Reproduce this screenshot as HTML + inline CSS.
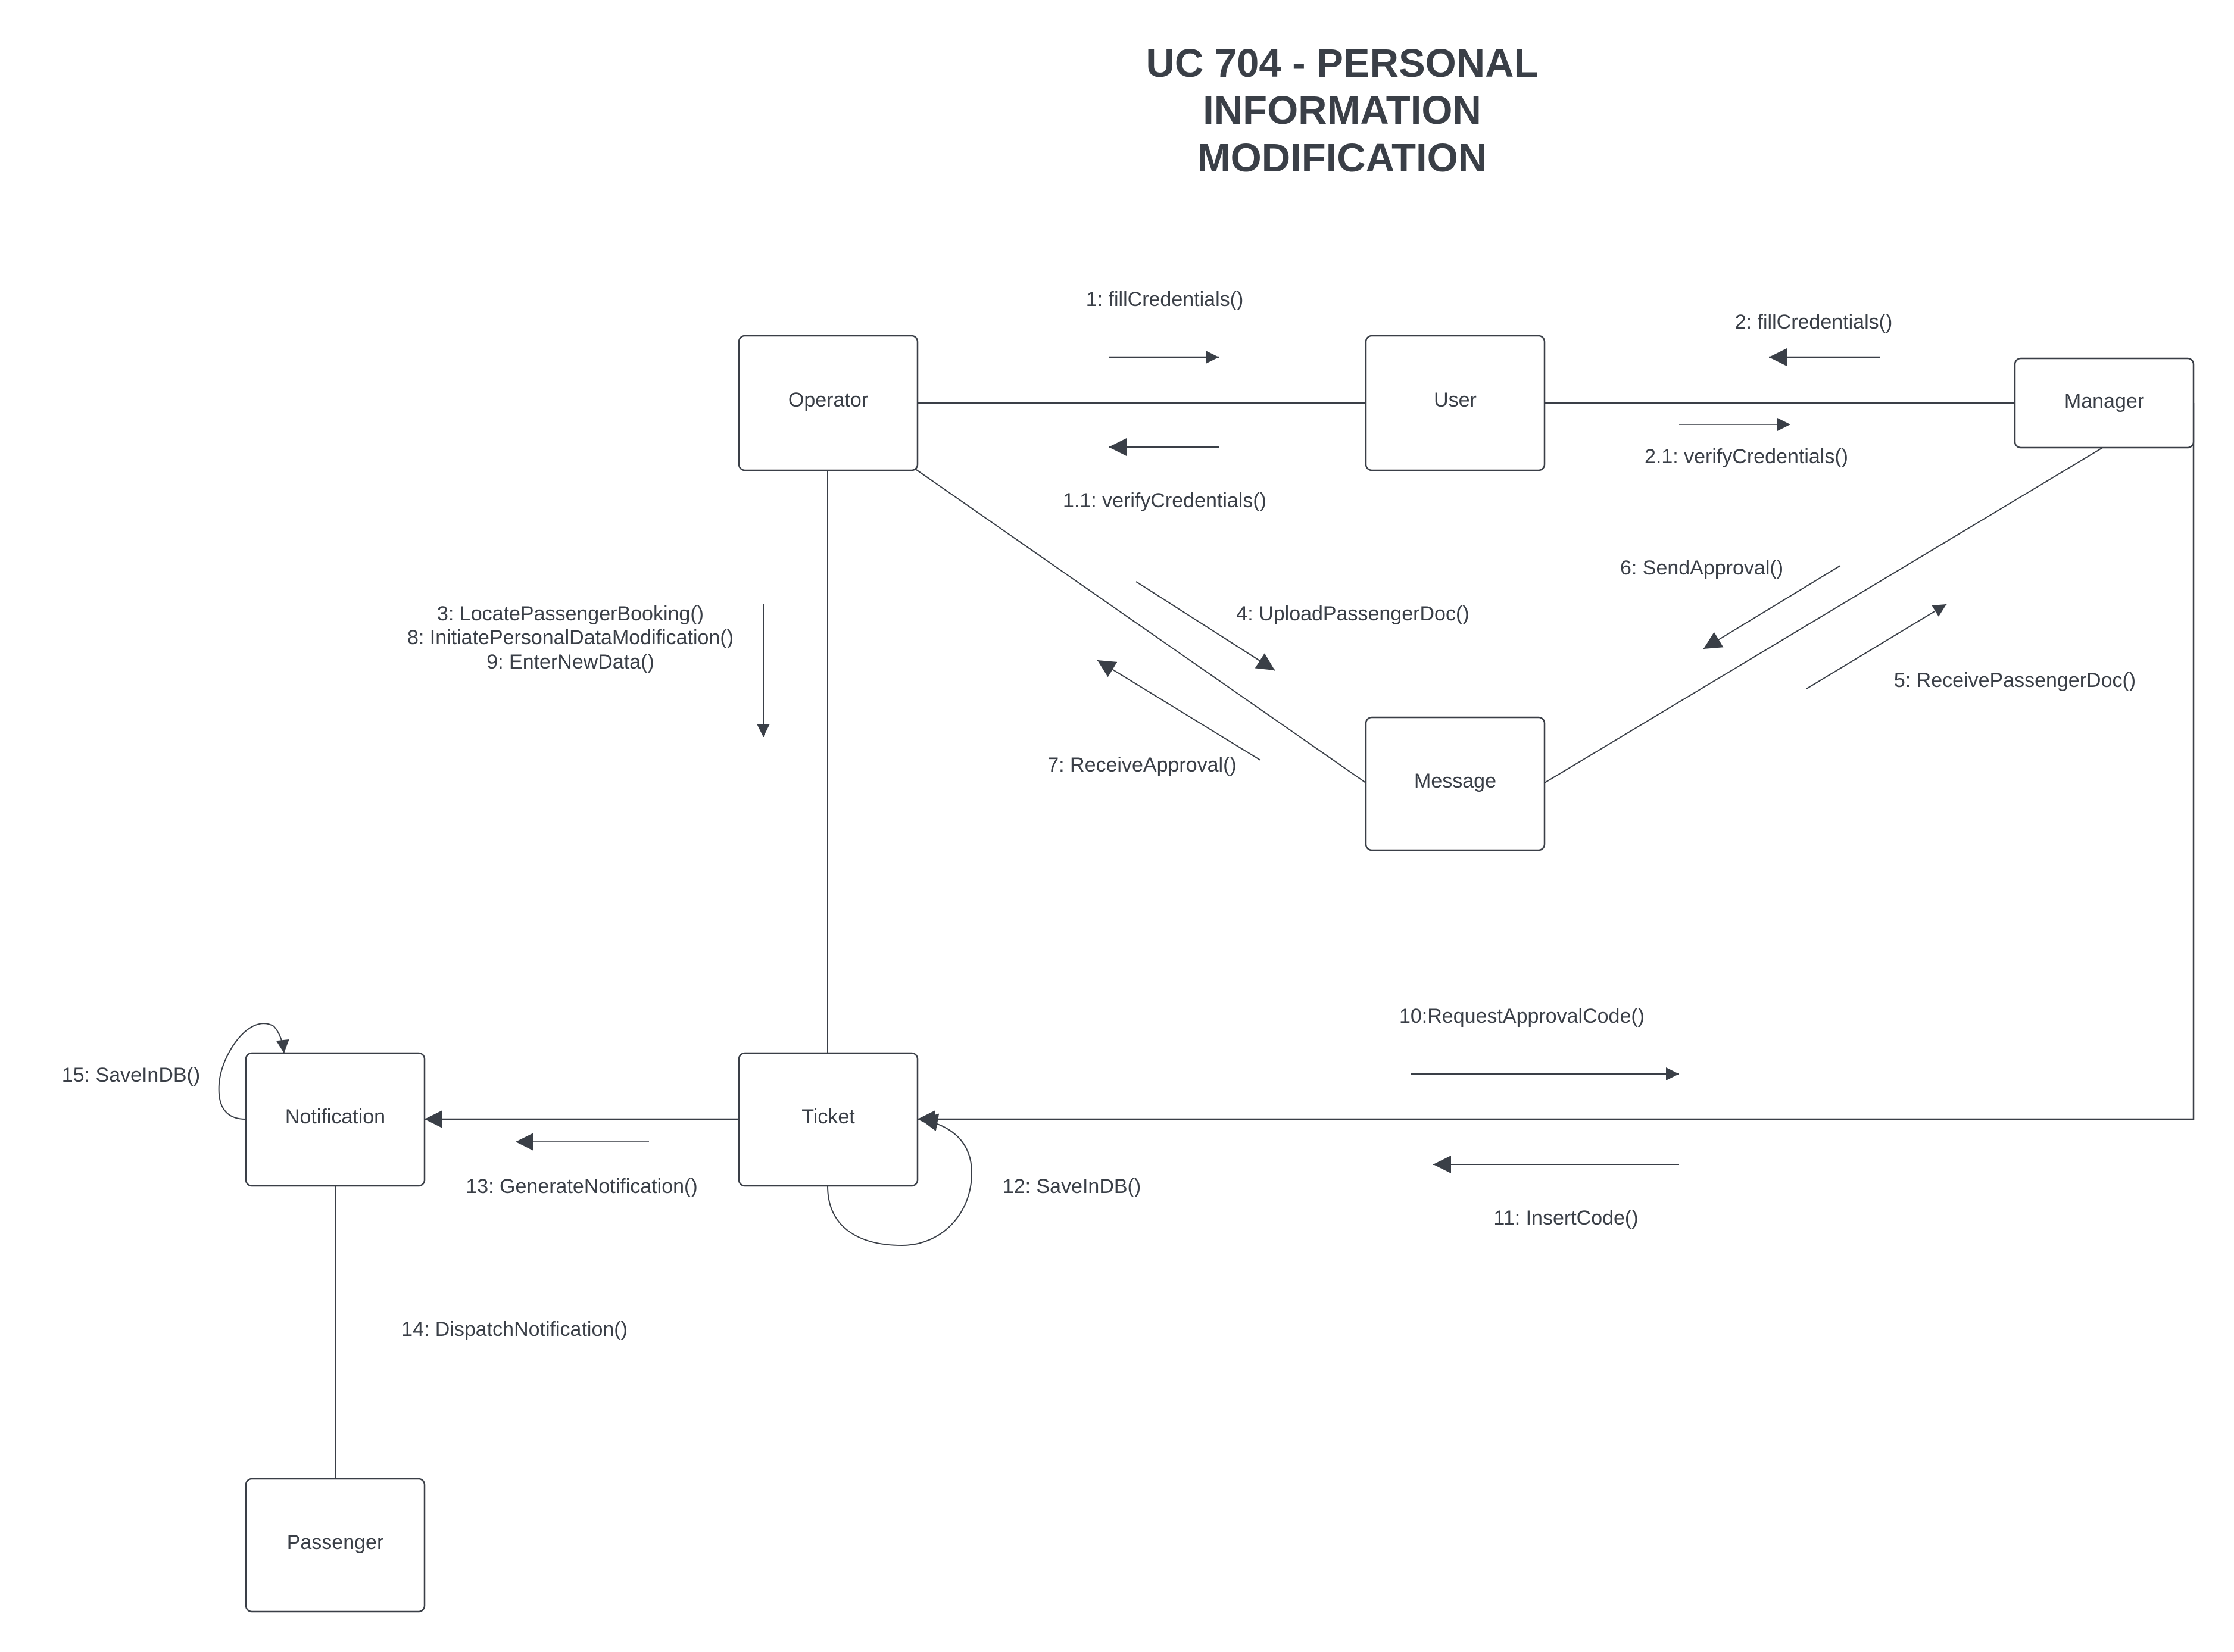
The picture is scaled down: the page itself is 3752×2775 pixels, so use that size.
<!DOCTYPE html>
<html><head><meta charset="utf-8"><style>
html,body{margin:0;padding:0;background:#fff;}
svg{display:block;}
text{font-family:"Liberation Sans",sans-serif;fill:#3a3f47;}
.l{font-size:34px;text-anchor:middle;}
.t{font-size:67px;font-weight:bold;text-anchor:middle;}
</style></head><body>
<svg width="3752" height="2775" viewBox="0 0 3752 2775" xmlns="http://www.w3.org/2000/svg">
<defs>
<marker id="b" viewBox="0 0 10 10" refX="10" refY="5" markerWidth="30" markerHeight="30" markerUnits="userSpaceOnUse" orient="auto"><path d="M0,0L10,5L0,10z" fill="#3a3f47"/></marker>
<marker id="s" viewBox="0 0 10 10" refX="10" refY="5" markerWidth="26" markerHeight="22" markerUnits="userSpaceOnUse" orient="auto"><path d="M0,0L10,5L0,10z" fill="#3a3f47"/></marker>
</defs>
<text class="t" x="2254" y="129">UC 704 - PERSONAL</text>
<text class="t" x="2254" y="208">INFORMATION</text>
<text class="t" x="2254" y="288">MODIFICATION</text>

<g stroke="#3a3f47" fill="none" stroke-width="2">
<line x1="1541" y1="677" x2="2294" y2="677" stroke-width="2.5"/>
<line x1="2594" y1="677" x2="3384" y2="677" stroke-width="2.5"/>
<line x1="1390" y1="790" x2="1390" y2="1769"/>
<line x1="1536" y1="787" x2="2294" y2="1315"/>
<line x1="2594" y1="1315" x2="3533" y2="751"/>
<line x1="564" y1="1992" x2="564" y2="2484"/>
<polyline points="3684,677 3684,1880 1541,1880" stroke-width="2.5" marker-end="url(#b)"/>
<line x1="1241" y1="1880" x2="713" y2="1880" stroke-width="2.5" marker-end="url(#b)"/>
<path d="M1390,1992 C1390,2060 1440,2092 1515,2092 C1580,2092 1632,2040 1632,1970 C1632,1920 1600,1890 1545,1880" marker-end="url(#b)"/>
<path d="M413,1880 C380,1880 365,1860 368,1820 C372,1770 420,1700 460,1724 C470,1735 475,1750 477,1769" marker-end="url(#s)"/>

<line x1="1862" y1="600" x2="2047" y2="600" stroke-width="2.5" marker-end="url(#s)"/>
<line x1="2047" y1="751" x2="1862" y2="751" stroke-width="2.5" marker-end="url(#b)"/>
<line x1="3158" y1="600" x2="2971" y2="600" stroke-width="2.5" marker-end="url(#b)"/>
<line x1="2820" y1="713" x2="3007" y2="713" stroke-width="1.5" marker-end="url(#s)"/>
<line x1="1282" y1="1015" x2="1282" y2="1238" stroke-width="2" marker-end="url(#s)"/>
<line x1="1908" y1="977" x2="2141" y2="1126" marker-end="url(#b)"/>
<line x1="2117" y1="1277" x2="1843" y2="1109" marker-end="url(#b)"/>
<line x1="3091" y1="950" x2="2861" y2="1090" marker-end="url(#b)"/>
<line x1="3034" y1="1157" x2="3269" y2="1015" marker-end="url(#s)"/>
<line x1="2369" y1="1804" x2="2820" y2="1804" marker-end="url(#s)"/>
<line x1="2820" y1="1956" x2="2407" y2="1956" marker-end="url(#b)"/>
<line x1="1090" y1="1918" x2="866" y2="1918" stroke-width="1.5" marker-end="url(#b)"/>
</g>

<g fill="#fff" stroke="#3a3f47" stroke-width="2.5">
<rect x="1241" y="564" width="300" height="226" rx="10"/>
<rect x="2294" y="564" width="300" height="226" rx="10"/>
<rect x="3384" y="602" width="300" height="150" rx="10"/>
<rect x="2294" y="1205" width="300" height="223" rx="10"/>
<rect x="1241" y="1769" width="300" height="223" rx="10"/>
<rect x="413" y="1769" width="300" height="223" rx="10"/>
<rect x="413" y="2484" width="300" height="223" rx="10"/>
</g>
<text class="l" x="1391" y="683">Operator</text>
<text class="l" x="2444" y="683">User</text>
<text class="l" x="3534" y="685">Manager</text>
<text class="l" x="2444" y="1323">Message</text>
<text class="l" x="1391" y="1887">Ticket</text>
<text class="l" x="563" y="1887">Notification</text>
<text class="l" x="563" y="2602">Passenger</text>

<text class="l" x="1956" y="514">1: fillCredentials()</text>
<text class="l" x="1956" y="852">1.1: verifyCredentials()</text>
<text class="l" x="3046" y="552">2: fillCredentials()</text>
<text class="l" x="2933" y="778">2.1: verifyCredentials()</text>
<text class="l" x="958" y="1042">3:  LocatePassengerBooking()</text>
<text class="l" x="958" y="1082">8: InitiatePersonalDataModification()</text>
<text class="l" x="958" y="1123">9: EnterNewData()</text>
<text class="l" x="2272" y="1042">4: UploadPassengerDoc()</text>
<text class="l" x="1918" y="1296">7: ReceiveApproval()</text>
<text class="l" x="2858" y="965">6: SendApproval()</text>
<text class="l" x="3384" y="1154">5: ReceivePassengerDoc()</text>
<text class="l" x="2556" y="1718">10:RequestApprovalCode()</text>
<text class="l" x="2630" y="2057">11: InsertCode()</text>
<text class="l" x="1800" y="2004">12: SaveInDB()</text>
<text class="l" x="977" y="2004">13: GenerateNotification()</text>
<text class="l" x="864" y="2244">14: DispatchNotification()</text>
<text class="l" x="220" y="1817">15: SaveInDB()</text>
</svg>
</body></html>
